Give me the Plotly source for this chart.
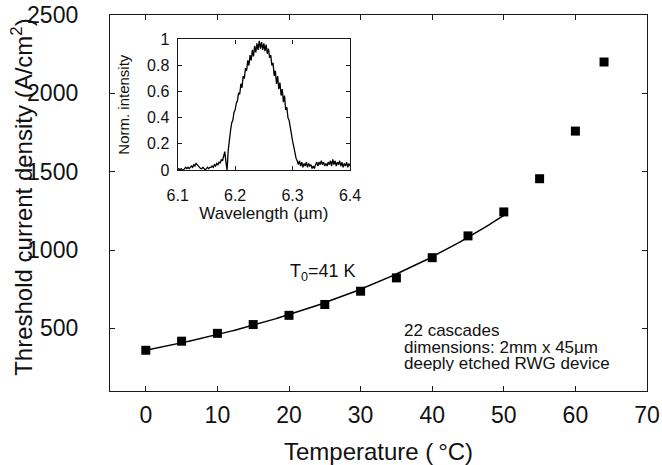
import numpy as np
import plotly.graph_objects as go

# Main data: threshold current density vs temperature
temperature_c = [0, 5, 10, 15, 20, 25, 30, 35, 40, 45, 50, 55, 60, 64]
jth = [360, 418, 468, 524, 583, 652, 737, 822, 951, 1090, 1243, 1455, 1759, 2200]
T0_K = 41.0
fit_max_T = 50

# Inset spectrum (read by eye), wavelength grid 6.100..6.400 step 0.002
wl_start, wl_step = 6.100, 0.002
intensity = [
    0.00, 0.01, 0.00, 0.01, 0.00, 0.00, 0.01, 0.02, 0.01, 0.02, 0.01, 0.02, 0.03, 0.02, 0.04, 0.03,
    0.05, 0.04, 0.03, 0.02, 0.01,
    0.01, 0.02, 0.01, 0.00, 0.01, 0.02, 0.01, 0.02, 0.02, 0.03,
    0.02, 0.04, 0.03, 0.05, 0.04, 0.06, 0.05, 0.08, 0.07, 0.11,
    0.14, 0.06, 0.00,
    0.15, 0.26, 0.30, 0.36, 0.38, 0.44, 0.46,
    0.51, 0.53, 0.59, 0.58, 0.66, 0.63, 0.72, 0.70, 0.78, 0.76,
    0.84, 0.80, 0.88, 0.84, 0.92, 0.87, 0.95, 0.90, 0.97, 0.92,
    0.99, 0.93, 0.98, 0.92, 0.97, 0.91, 0.96, 0.89, 0.93, 0.86,
    0.88, 0.80, 0.82, 0.72, 0.76, 0.66, 0.72, 0.62, 0.67, 0.57,
    0.62, 0.52, 0.57, 0.46, 0.48, 0.40, 0.38, 0.32, 0.28, 0.22,
    0.18, 0.13, 0.09, 0.07, 0.04, 0.07, 0.03, 0.06, 0.02, 0.05,
    0.03, 0.06, 0.02, 0.05, 0.03, 0.04, 0.01, 0.03, 0.01, 0.04,
    0.06, 0.03, 0.06, 0.04, 0.07, 0.04, 0.06, 0.03, 0.05, 0.03,
    0.06, 0.04, 0.07, 0.03, 0.08, 0.04, 0.07, 0.03, 0.06, 0.04,
    0.07, 0.03, 0.06, 0.02, 0.05, 0.03, 0.06, 0.02, 0.05, 0.03,
]
wavelength = [round(wl_start + wl_step * i, 3) for i in range(len(intensity))]

x_ticks = [0, 10, 20, 30, 40, 50, 60, 70]
y_ticks = [500, 1000, 1500, 2000, 2500]

# Exponential fit J = J0 exp(T/T0) over 0..50 C with T0 fixed
T_arr = np.array(temperature_c, dtype=float)
J_arr = np.array(jth, dtype=float)
m = T_arr <= fit_max_T
J0 = np.exp(np.mean(np.log(J_arr[m]) - T_arr[m] / T0_K))
T_fit = np.linspace(0, fit_max_T, 200)
J_fit = J0 * np.exp(T_fit / T0_K)

FONT = "Liberation Sans, Arial, Helvetica, sans-serif"
LC = "#1a1a1a"

fig = go.Figure()
fig.add_trace(go.Scatter(x=T_fit, y=J_fit, mode="lines",
                         line=dict(color="black", width=1.5),
                         xaxis="x", yaxis="y", showlegend=False, hoverinfo="skip"))
fig.add_trace(go.Scatter(x=temperature_c, y=jth, mode="markers",
                         marker=dict(symbol="square", size=9, color="black"),
                         xaxis="x", yaxis="y", showlegend=False))
fig.add_trace(go.Scatter(x=wavelength, y=intensity, mode="lines",
                         line=dict(color="black", width=1.3),
                         xaxis="x2", yaxis="y2", showlegend=False))

axis_common = dict(showline=True, mirror="allticks", linecolor=LC, linewidth=1.3,
                   ticks="inside", tickcolor=LC, showgrid=False, zeroline=False,
                   automargin=False)

fig.update_layout(
    width=662, height=465,
    margin=dict(l=110, r=15, t=15, b=74),
    paper_bgcolor="white", plot_bgcolor="white",
    font=dict(family=FONT, color="#111"),
    xaxis=dict(domain=[0, 1], range=[-5, 70], tickvals=x_ticks, ticklen=5,
               tickfont=dict(size=23), ticklabelstandoff=3,
               title=dict(text="Temperature (\u2009°C)", font=dict(size=24), standoff=18),
               **axis_common),
    yaxis=dict(domain=[0, 1], range=[100, 2500], tickvals=y_ticks, ticklen=5,
               tickfont=dict(size=23), ticklabelstandoff=26,
               **axis_common),
    xaxis2=dict(domain=[0.126, 0.447], anchor="y2", range=[6.1, 6.4],
                tickvals=[6.1, 6.2, 6.3, 6.4], ticklen=4,
                tickfont=dict(size=16), ticklabelstandoff=11,
                title=dict(text="Wavelength (µm)", font=dict(size=17), standoff=0),
                **axis_common),
    yaxis2=dict(domain=[0.588, 0.935], anchor="x2", range=[0, 1],
                tickvals=[0, 0.2, 0.4, 0.6, 0.8, 1], ticklen=4,
                tickfont=dict(size=16), ticklabelstandoff=4,
                title=dict(text="Norm. intensity", font=dict(size=15), standoff=13),
                **axis_common),
)

# y-axis title placed as a rotated annotation
fig.add_annotation(xref="paper", yref="paper", x=-0.163, y=0.515, xanchor="center", yanchor="middle",
                   textangle=-90, showarrow=False,
                   text="Threshold current density (A/cm<sup>2</sup>)",
                   font=dict(family=FONT, size=24, color="#111"))

fig.add_annotation(xref="paper", yref="paper", x=0.332, y=0.314, xanchor="left", yanchor="middle",
                   text="T<sub>0</sub>=41 K", showarrow=False, font=dict(family=FONT, size=18, color="#111"))
ann_font = dict(family=FONT, size=17, color="#111")
for txt, yp in [("22 cascades", 0.162), ("dimensions: 2mm x 45µm", 0.118),
                ("deeply etched RWG device", 0.0745)]:
    fig.add_annotation(xref="paper", yref="paper", x=0.545, y=yp, xanchor="left", yanchor="middle",
                       text=txt, showarrow=False, font=ann_font, height=16, borderpad=0)

fig.write_html("out.html", config={"displayModeBar": False},
               post_script="document.body.style.margin='0';document.body.style.padding='0';")
